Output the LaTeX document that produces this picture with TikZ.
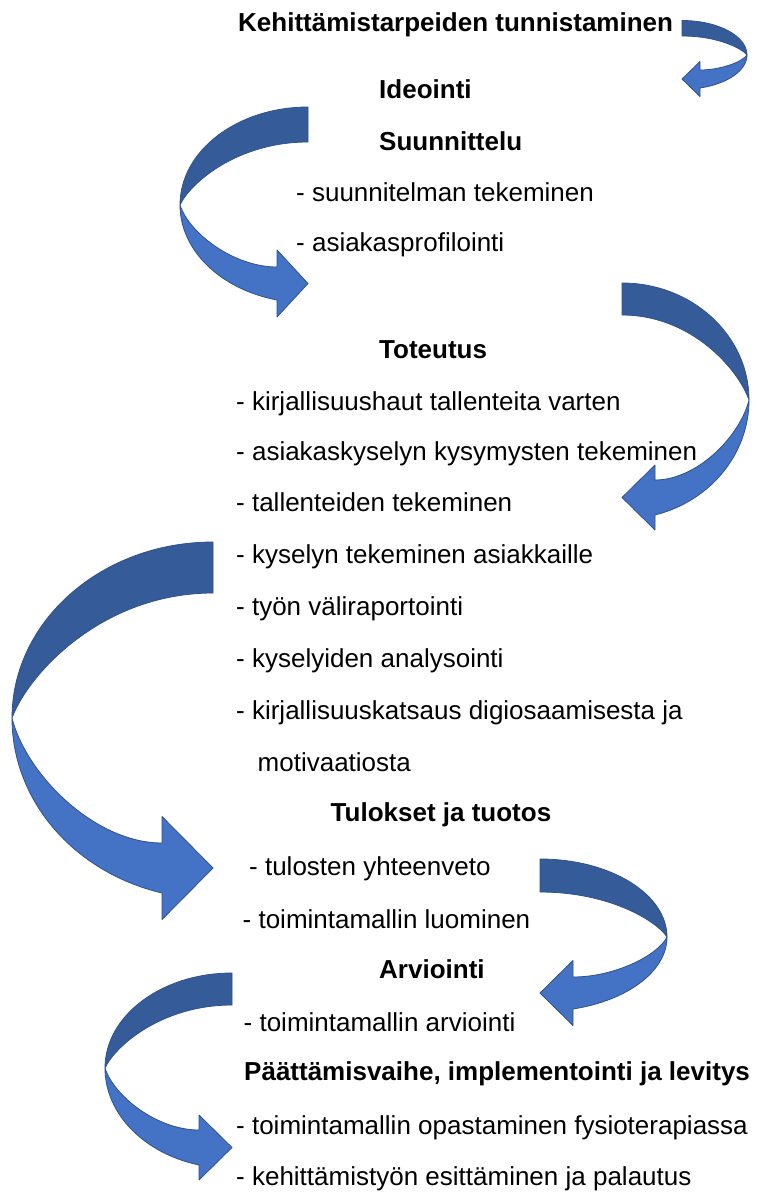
\documentclass[tikz,border=0pt]{standalone}
\usepackage{fontspec}
\setmainfont{Liberation Sans}
\definecolor{lightblue}{HTML}{4472C4}
\definecolor{darkblue}{HTML}{355B99}
\definecolor{edgeblue}{HTML}{2F528F}
\tikzset{
  lbl/.style={anchor=base west, inner sep=0pt, font=\fontsize{26}{31}\selectfont},
  ttl/.style={lbl, font=\fontsize{26}{31}\selectfont\bfseries},
  darkpart/.style={fill=darkblue, draw=edgeblue, line width=0.8pt, line join=round},
  lightpart/.style={fill=lightblue, draw=edgeblue, line width=0.8pt, line join=round}
}
% #1 xR  #2 yT  #3 yTb  #4 xL  #5 yM  #6 xH  #7 yHi  #8 yHo  #9 half head height
\newcommand\curvarrow[9]{%
  \pgfmathsetmacro\rx{#1-#4}%
  \pgfmathsetmacro\phiA{acos((#6-#1)/\rx)}%
  \pgfmathsetmacro\ryo{(#8-#5)/sin(\phiA)}%
  \pgfmathsetmacro\ryd{#5-#2}%
  \pgfmathsetmacro\dAx{#4+0.08*\rx}%
  \pgfmathsetmacro\dAy{#5-0.35*(#5-#3)}%
  \pgfmathsetmacro\dBx{#1-0.552*\rx}%
  \pgfmathsetmacro\lAx{#4+0.07*\rx}%
  \pgfmathsetmacro\lAy{#5+0.45*(#7-#5)}%
  \pgfmathsetmacro\lBx{#6-0.45*(#6-#4)}%
  \pgfmathsetmacro\mid{(#7+#8)/2}%
  \path[darkpart] (#1,#2) arc[start angle=-90, end angle=-180, x radius=\rx, y radius=\ryd]
     .. controls (\dAx,\dAy) and (\dBx,#3) .. (#1,#3) -- cycle;
  \path[lightpart] (#4,#5) .. controls (\lAx,\lAy) and (\lBx,#7) .. (#6,#7)
     -- (#6,\mid-#9) -- (#1,\mid) -- (#6,\mid+#9) -- (#6,#8)
     arc[start angle=\phiA, end angle=180, x radius=\rx, y radius=\ryo] -- cycle;
}
\begin{document}
\begin{tikzpicture}[x=1pt,y=-1pt]
\useasboundingbox[fill=white] (0,0) rectangle (757,1194);
% arrows on the right side (mirrored)
\begin{scope}[xscale=-1]
  \curvarrow{-682}{20.5}{36}{-747}{55}{-700}{70}{88}{17.5}
  \curvarrow{-622}{283}{315}{-749}{400}{-655}{480}{515}{32.5}
  \curvarrow{-540}{859}{892}{-667}{937}{-573}{977}{1009}{32.5}
\end{scope}
% arrows on the left side
\curvarrow{308}{107}{142}{180}{205}{277}{267}{300}{33.5}
\curvarrow{213}{542}{593}{12}{718}{162}{843}{893}{51.5}
\curvarrow{232}{973}{1005}{105}{1068}{199}{1130}{1165}{32.5}
% texts
\node[ttl] (t1) at (238,31.7) {Kehittämistarpeiden tunnistaminen};
\node[ttl] (t2) at (379,98.5) {Ideointi};
\node[ttl] (t3) at (379,150) {Suunnittelu};
\node[lbl] (t4) at (296,201) {- suunnitelman tekeminen};
\node[lbl] (t5) at (296,251.7) {- asiakasprofilointi};
\node[ttl] (t6) at (379,358) {Toteutus};
\node[lbl] (t7) at (236,410) {- kirjallisuushaut tallenteita varten};
\node[lbl] (t8) at (236,460.5) {- asiakaskyselyn kysymysten tekeminen};
\node[lbl] (t9) at (236,511.7) {- tallenteiden tekeminen};
\node[lbl] (t10) at (236,563) {- kyselyn tekeminen asiakkaille};
\node[lbl] (t11) at (236,615) {- työn väliraportointi};
\node[lbl] (t12) at (236,667) {- kyselyiden analysointi};
\node[lbl] (t13) at (236,719.3) {- kirjallisuuskatsaus digiosaamisesta ja};
\node[lbl] (t14) at (257.5,771) {motivaatiosta};
\node[ttl] (t15) at (330.5,821.7) {Tulokset ja tuotos};
\node[lbl] (t16) at (249,875) {- tulosten yhteenveto};
\node[lbl] (t17) at (242.5,928) {- toimintamallin luominen};
\node[ttl] (t18) at (379,978) {Arviointi};
\node[lbl] (t19) at (243.5,1031.7) {- toimintamallin arviointi};
\node[ttl] (t20) at (244,1080.5) {Päättämisvaihe, implementointi ja levitys};
\node[lbl] (t21) at (236,1134) {- toimintamallin opastaminen fysioterapiassa};
\node[lbl] (t22) at (236,1185) {- kehittämistyön esittäminen ja palautus};
\end{tikzpicture}
\end{document}
